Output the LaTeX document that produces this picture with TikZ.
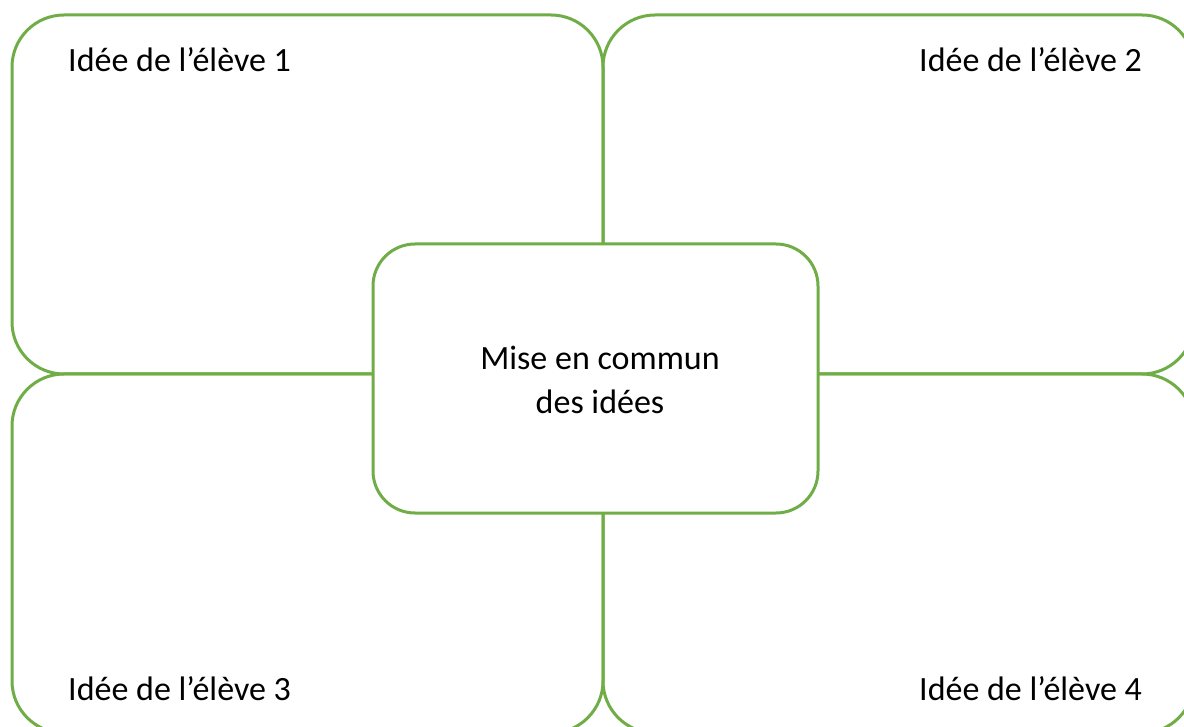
\documentclass[tikz,border=0pt]{standalone}
\usepackage{fontspec}
\setmainfont{Carlito}
\definecolor{ogreen}{RGB}{112,173,71}
\begin{document}
\begin{tikzpicture}[x=1pt,y=-1pt,
  bigbox/.style={draw=ogreen, line width=3pt, rounded corners=52pt, rectangle,
    minimum width=591pt, minimum height=359pt, inner sep=0pt, outer sep=0pt},
  midbox/.style={draw=ogreen, fill=white, line width=3pt, rounded corners=42pt, rectangle,
    minimum width=445pt, minimum height=269pt, inner sep=0pt, outer sep=0pt},
  lbl/.style={inner sep=0pt, font=\fontsize{34}{44}\selectfont}]
\useasboundingbox (0,0) rectangle (1184,727);
\node[bigbox] (b1) at (307.5,194.5) {};
\node[bigbox] (b2) at (898.5,194.5) {};
\node[bigbox] (b3) at (307.5,553.5) {};
\node[bigbox] (b4) at (898.5,553.5) {};
\node[midbox] (c) at (595.5,378.5) {};
\node[lbl, anchor=base west] (t1) at (68,72) {Idée de l’élève 1};
\node[lbl, anchor=base east] (t2) at (1142,72) {Idée de l’élève 2};
\node[lbl, anchor=base west] (t3) at (68,700) {Idée de l’élève 3};
\node[lbl, anchor=base east] (t4) at (1142,700) {Idée de l’élève 4};
\node[lbl, align=center] (ct) at (600,380) {Mise en commun\\des idées};
\end{tikzpicture}
\end{document}
